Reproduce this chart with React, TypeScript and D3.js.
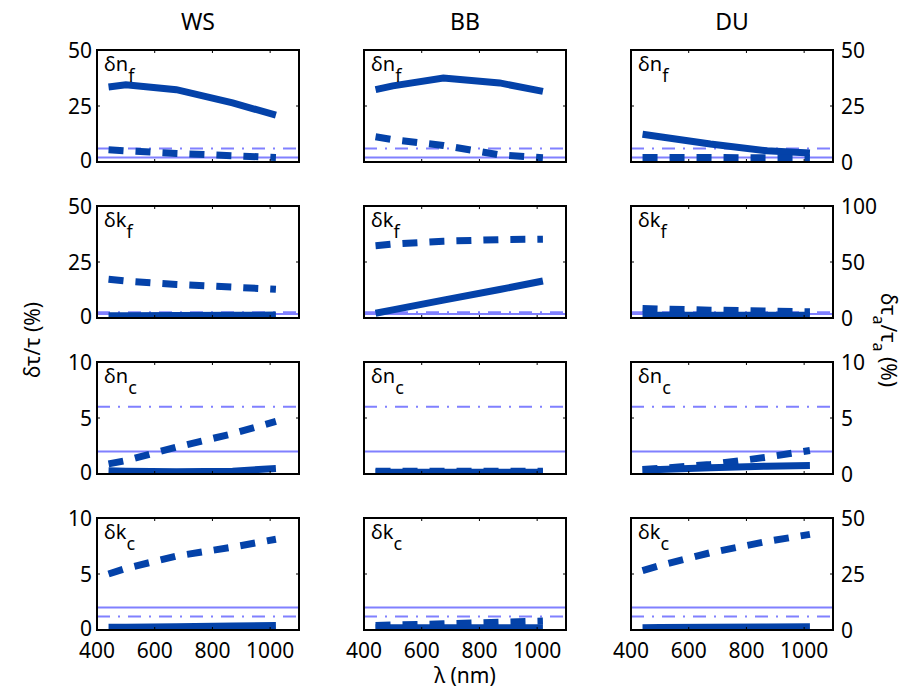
import React from "react";
import * as d3 from "d3";

const wavelengths = [440, 500, 675, 870, 1020];
const columnTitles = ["WS", "BB", "DU"];
const paramMain = ["δn", "δk", "δn", "δk"];
const paramSub = ["f", "f", "c", "c"];
const xTicks = [400, 600, 800, 1000];

// rows: δn_f, δk_f, δn_c, δk_c
const wsSolid = [
  [33.5, 34.5, 32.3, 26.4, 20.9],
  [1.0, 1.0, 1.1, 1.2, 1.3],
  [0.3, 0.25, 0.2, 0.25, 0.5],
  [0.25, 0.25, 0.3, 0.35, 0.4],
];
const wsDashed = [
  [5.5, 5.0, 3.8, 2.8, 2.0],
  [17.3, 16.5, 15.0, 13.8, 12.8],
  [0.9, 1.2, 2.4, 3.6, 4.7],
  [5.0, 5.5, 6.6, 7.4, 8.1],
];
const bbSolid = [
  [32.3, 34.0, 37.5, 35.3, 31.5],
  [2.1, 3.6, 8.0, 12.7, 16.5],
  [0.15, 0.15, 0.15, 0.15, 0.15],
  [0.2, 0.2, 0.2, 0.2, 0.2],
];
const bbDashed = [
  [11.3, 10.0, 7.4, 3.2, 1.9],
  [32.3, 33.0, 34.3, 35.0, 35.2],
  [0.25, 0.25, 0.25, 0.25, 0.25],
  [0.4, 0.45, 0.55, 0.7, 0.8],
];
const duSolid = [
  [12.4, 11.3, 8.0, 5.0, 4.0],
  [2.5, 2.5, 2.5, 2.5, 2.5],
  [0.4, 0.4, 0.55, 0.7, 0.75],
  [1.0, 1.1, 1.2, 1.3, 1.4],
];
const duDashed = [
  [2.0, 2.0, 2.0, 1.9, 1.9],
  [8.5, 8.0, 7.0, 6.2, 5.6],
  [0.4, 0.5, 0.85, 1.5, 2.1],
  [26.5, 28.8, 34.5, 39.5, 42.7],
];

const wsMax = [50, 50, 10, 10];
const bbMax = [50, 50, 10, 10];
const duMax = [50, 100, 10, 50];

const wsRefSolid = [2, 1.8, 2, 2];
const wsRefDashDot = [6, 2.6, 6, 1.2];
const bbRefSolid = [2, 1.8, 2, 2];
const bbRefDashDot = [6, 2.6, 6, 1.2];
const duRefSolid = [2, 3.6, 2, 10];
const duRefDashDot = [6, 5.2, 6, 6];

const solids = [wsSolid, bbSolid, duSolid];
const dasheds = [wsDashed, bbDashed, duDashed];
const maxes = [wsMax, bbMax, duMax];
const refSolids = [wsRefSolid, bbRefSolid, duRefSolid];
const refDashDots = [wsRefDashDot, bbRefDashDot, duRefDashDot];

const colLeft = [97, 364, 631];
const rowTop = [50, 206, 362, 518];
const panelW = 202;
const panelH = 112;

const DARK = "#0442a9";
const LIGHT = "#8080ff";
const FONT = "'Noto Sans', sans-serif";
const FS = 21;

function Panel({ c, r }: { c: number; r: number }) {
  const x0 = colLeft[c];
  const y0 = rowTop[r];
  const x = d3.scaleLinear().domain([400, 1100]).range([x0, x0 + panelW]);
  const ymax = maxes[c][r];
  const y = d3.scaleLinear().domain([0, ymax]).range([y0 + panelH, y0]);
  const line = d3
    .line<number>()
    .x((_, i) => x(wavelengths[i]))
    .y((v) => y(v));
  const clipId = `clip-${c}-${r}`;
  const yTicks = [0, ymax / 2, ymax];
  const tl = 3;
  return (
    <g>
      <defs>
        <clipPath id={clipId}>
          <rect x={x0} y={y0} width={panelW} height={panelH} />
        </clipPath>
      </defs>
      <g clipPath={`url(#${clipId})`}>
        <line
          x1={x0}
          x2={x0 + panelW}
          y1={y(refSolids[c][r])}
          y2={y(refSolids[c][r])}
          stroke={LIGHT}
          strokeWidth={2}
        />
        <line
          x1={x0}
          x2={x0 + panelW}
          y1={y(refDashDots[c][r])}
          y2={y(refDashDots[c][r])}
          stroke={LIGHT}
          strokeWidth={2}
          strokeDasharray="13,8,2,8"
        />
        <path d={line(solids[c][r]) || ""} fill="none" stroke={DARK} strokeWidth={7} strokeLinejoin="miter" />
        <path
          d={line(dasheds[c][r]) || ""}
          fill="none"
          stroke={DARK}
          strokeWidth={7}
          strokeDasharray="15,12"
        />
      </g>
      {xTicks.slice(1).map((t) => (
        <g key={`xt${t}`}>
          <line x1={x(t)} x2={x(t)} y1={y0} y2={y0 + tl} stroke="#000" strokeWidth={1} />
          <line x1={x(t)} x2={x(t)} y1={y0 + panelH} y2={y0 + panelH - tl} stroke="#000" strokeWidth={1} />
        </g>
      ))}
      {yTicks.slice(1, 2).map((t) => (
        <g key={`yt${t}`}>
          <line x1={x0} x2={x0 + tl} y1={y(t)} y2={y(t)} stroke="#000" strokeWidth={1} />
          <line x1={x0 + panelW} x2={x0 + panelW - tl} y1={y(t)} y2={y(t)} stroke="#000" strokeWidth={1} />
        </g>
      ))}
      <rect x={x0} y={y0} width={panelW} height={panelH} fill="none" stroke="#000" strokeWidth={2} />
      <text x={x0 + 7} y={y0 + 21} fontFamily={FONT} fontSize={20} fill="#000">
        {paramMain[r]}
        <tspan fontSize={18} dy={11}>{paramSub[r]}</tspan>
      </text>
      {c === 0 &&
        yTicks.map((t) => (
          <text
            key={`yl${t}`}
            x={x0 - 5}
            y={y(t)}
            dy={t === 0 ? "0.28em" : "0.36em"}
            textAnchor="end"
            fontFamily={FONT}
            fontSize={FS}
          >
            {t}
          </text>
        ))}
      {c === 2 &&
        yTicks.map((t) => (
          <text
            key={`yr${t}`}
            x={x0 + panelW + 8}
            y={y(t)}
            dy="0.36em"
            textAnchor="start"
            fontFamily={FONT}
            fontSize={FS}
          >
            {t}
          </text>
        ))}
      {r === 3 &&
        xTicks.map((t) => (
          <text
            key={`xl${t}`}
            x={x(t)}
            y={y0 + panelH + 28}
            textAnchor="middle"
            fontFamily={FONT}
            fontSize={FS}
          >
            {t}
          </text>
        ))}
    </g>
  );
}

export default function App() {
  const panels: JSX.Element[] = [];
  for (let c = 0; c < 3; c++) for (let r = 0; r < 4; r++) panels.push(<Panel key={`${c}-${r}`} c={c} r={r} />);
  return (
    <svg
      width={909}
      height={690}
      style={{ position: "absolute", left: 0, top: 0, background: "#fff" }}
    >
      <rect width={909} height={690} fill="#fff" />
      {columnTitles.map((t, i) => (
        <text
          key={t}
          x={colLeft[i] + panelW / 2}
          y={30}
          textAnchor="middle"
          fontFamily={FONT}
          fontSize={23}
        >
          {t}
        </text>
      ))}
      {panels}
      <text
        transform="translate(40,340) rotate(-90)"
        textAnchor="middle"
        fontFamily={FONT}
        fontSize={FS}
      >
        δτ/τ (%)
      </text>
      <text
        transform="translate(881,340) rotate(90)"
        textAnchor="middle"
        fontFamily={FONT}
        fontSize={FS}
      >
        δτ<tspan fontSize={16} dy={8}>a</tspan>
        <tspan dy={-8}>/τ</tspan>
        <tspan fontSize={16} dy={8}>a</tspan>
        <tspan dy={-8}> (%)</tspan>
      </text>
      <text x={465} y={683} textAnchor="middle" fontFamily={FONT} fontSize={FS}>
        λ (nm)
      </text>
    </svg>
  );
}
